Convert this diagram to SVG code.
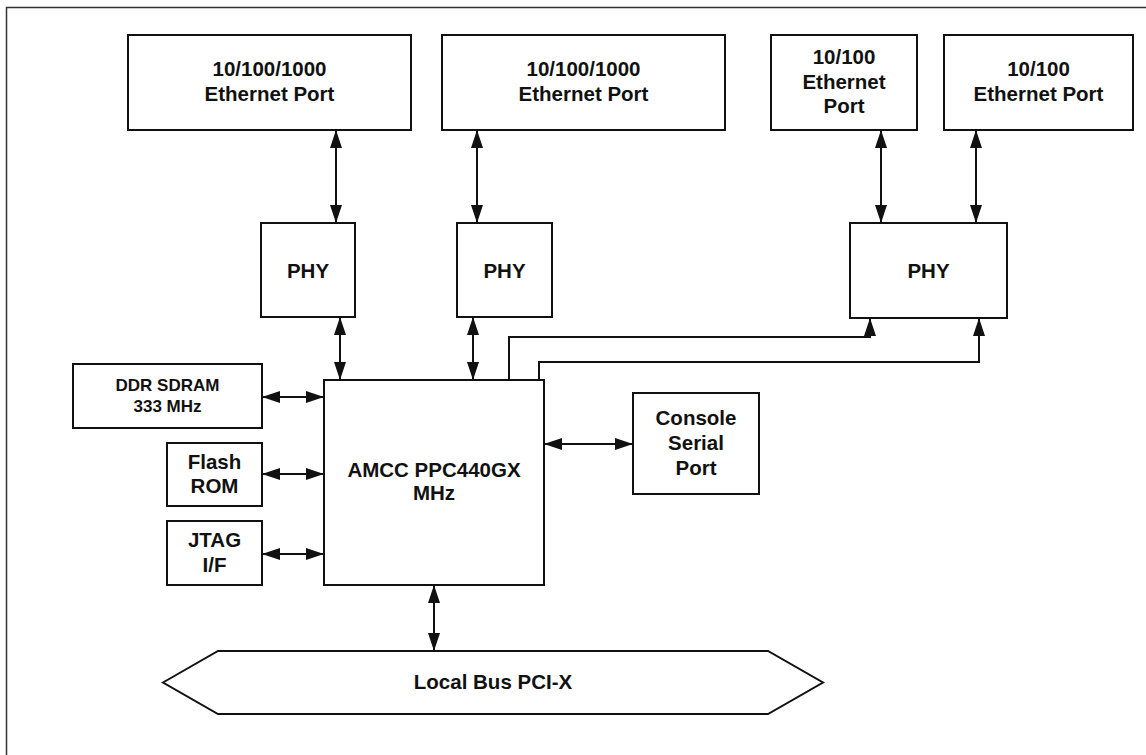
<svg xmlns="http://www.w3.org/2000/svg" width="1146" height="755" viewBox="0 0 1146 755">
<style>
  .box { fill: #fff; stroke: #111; stroke-width: 2; }
  .t { font-family: "Liberation Sans", Arial, sans-serif; font-weight: bold; font-size: 20.5px; fill: #111; text-anchor: middle; }
  .ts { font-family: "Liberation Sans", Arial, sans-serif; font-weight: bold; font-size: 17px; fill: #111; text-anchor: middle; }
  .c { fill: none; stroke: #111; stroke-width: 2; }
  .both { marker-start: url(#ah); marker-end: url(#ah); }
  .end { marker-end: url(#ah); }
</style>
<defs>
  <marker id="ah" markerUnits="userSpaceOnUse" markerWidth="18" markerHeight="12" refX="18" refY="6" orient="auto-start-reverse">
    <path d="M0,0 L18,6 L0,12 z" fill="#111"/>
  </marker>
</defs>
<rect width="1146" height="755" fill="#fff"/>
<path d="M6.5,755 V7.5 H1146" fill="none" stroke="#333" stroke-width="1.5"/>

<g id="eth1">
  <rect class="box" x="128" y="35" width="283" height="95"/>
  <text class="t" x="269.5" y="76">10/100/1000</text>
  <text class="t" x="269.5" y="100.5">Ethernet Port</text>
</g>
<g id="eth2">
  <rect class="box" x="442" y="35" width="283" height="95"/>
  <text class="t" x="583.5" y="76">10/100/1000</text>
  <text class="t" x="583.5" y="100.5">Ethernet Port</text>
</g>
<g id="eth3">
  <rect class="box" x="771" y="35" width="146" height="95"/>
  <text class="t" x="844" y="64">10/100</text>
  <text class="t" x="844" y="88.5">Ethernet</text>
  <text class="t" x="844" y="113">Port</text>
</g>
<g id="eth4">
  <rect class="box" x="944" y="35" width="189" height="95"/>
  <text class="t" x="1038.5" y="76">10/100</text>
  <text class="t" x="1038.5" y="100.5">Ethernet Port</text>
</g>
<g id="phy1">
  <rect class="box" x="261" y="223" width="94" height="94"/>
  <text class="t" x="308" y="277.5">PHY</text>
</g>
<g id="phy2">
  <rect class="box" x="457" y="223" width="95" height="94"/>
  <text class="t" x="504.5" y="277.5">PHY</text>
</g>
<g id="phy3">
  <rect class="box" x="850" y="223" width="157" height="95"/>
  <text class="t" x="928.5" y="277.5">PHY</text>
</g>
<g id="ddr">
  <rect class="box" x="73" y="364" width="189" height="64"/>
  <text class="ts" x="167.5" y="390.5">DDR SDRAM</text>
  <text class="ts" x="167.5" y="411.5">333 MHz</text>
</g>
<g id="flash">
  <rect class="box" x="167" y="443" width="95" height="63"/>
  <text class="t" x="214.5" y="468.5">Flash</text>
  <text class="t" x="214.5" y="492.5">ROM</text>
</g>
<g id="jtag">
  <rect class="box" x="167" y="521" width="95" height="64"/>
  <text class="t" x="214.5" y="546.5">JTAG</text>
  <text class="t" x="214.5" y="571.5">I/F</text>
</g>
<g id="cpu">
  <rect class="box" x="324" y="380" width="220" height="205"/>
  <text class="t" x="434" y="476.5">AMCC PPC440GX</text>
  <text class="t" x="434" y="500">MHz</text>
</g>
<g id="console">
  <rect class="box" x="633" y="393" width="126" height="101"/>
  <text class="t" x="696" y="424.5">Console</text>
  <text class="t" x="696" y="450">Serial</text>
  <text class="t" x="696" y="475">Port</text>
</g>
<g id="bus">
  <polygon class="box" points="163,682.5 218,651 768,651 823,682.5 768,714 218,714"/>
  <text class="t" x="493" y="689">Local Bus PCI-X</text>
</g>

<g id="connectors">
  <line class="c both" x1="336" y1="130" x2="336" y2="223"/>
  <line class="c both" x1="477" y1="130" x2="477" y2="223"/>
  <line class="c both" x1="881" y1="130" x2="881" y2="223"/>
  <line class="c both" x1="976" y1="130" x2="976" y2="223"/>
  <line class="c both" x1="340" y1="317" x2="340" y2="380"/>
  <line class="c both" x1="473" y1="317" x2="473" y2="380"/>
  <path class="c end" d="M509,380 V337 H870 V318"/>
  <path class="c end" d="M539,380 V362 H979 V318"/>
  <line class="c both" x1="262" y1="397" x2="324" y2="397"/>
  <line class="c both" x1="262" y1="474" x2="324" y2="474"/>
  <line class="c both" x1="262" y1="554" x2="324" y2="554"/>
  <line class="c both" x1="544" y1="444" x2="633" y2="444"/>
  <line class="c both" x1="434" y1="585" x2="434" y2="651"/>
</g>
</svg>
